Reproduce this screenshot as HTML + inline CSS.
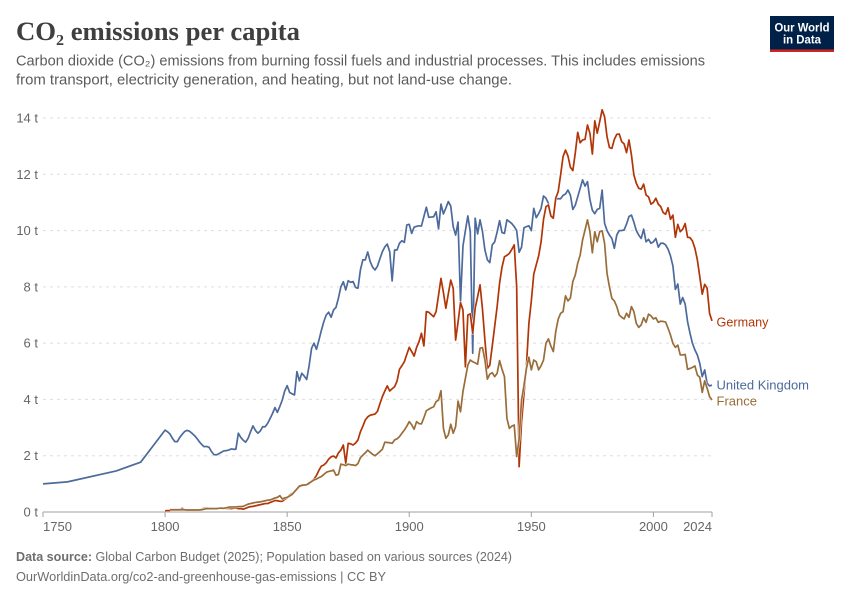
<!DOCTYPE html>
<html lang="en">
<head>
<meta charset="utf-8">
<title>CO₂ emissions per capita</title>
<style>
html,body{margin:0;padding:0;background:#fff}
svg{display:block}
text{font-family:"Liberation Sans",sans-serif}
</style>
</head>
<body>
<svg id="chart" width="850" height="600" viewBox="0 0 850 600" xmlns="http://www.w3.org/2000/svg">
  <rect x="0" y="0" width="850" height="600" fill="#ffffff"/>
  <text x="16" y="40" font-size="26" font-weight="bold" fill="#3f3f3f" textLength="284" lengthAdjust="spacingAndGlyphs" style="font-family:'Liberation Serif',serif">CO₂ emissions per capita</text>
  <text x="16" y="65.5" font-size="14.5" fill="#5b5b5b" textLength="689" lengthAdjust="spacingAndGlyphs">Carbon dioxide (CO₂) emissions from burning fossil fuels and industrial processes. This includes emissions</text>
  <text x="16" y="84.5" font-size="14.5" fill="#5b5b5b" textLength="496" lengthAdjust="spacingAndGlyphs">from transport, electricity generation, and heating, but not land-use change.</text>
  <g>
    <rect x="770" y="16" width="64" height="36" fill="#002147"/>
    <rect x="770" y="49.5" width="64" height="2.5" fill="#ce261e"/>
    <text x="802" y="31.5" font-size="12" font-weight="bold" fill="#ffffff" text-anchor="middle" textLength="55" lengthAdjust="spacingAndGlyphs">Our World</text>
    <text x="802" y="43.5" font-size="12" font-weight="bold" fill="#ffffff" text-anchor="middle" textLength="38" lengthAdjust="spacingAndGlyphs">in Data</text>
  </g>
  <g id="grid"></g>
  <g id="axes"></g>
  <g id="series"></g>
  <g id="labels"></g>
  <text x="16" y="561" font-size="13" fill="#6e6e6e" textLength="496" lengthAdjust="spacingAndGlyphs"><tspan font-weight="bold">Data source:</tspan> Global Carbon Budget (2025); Population based on various sources (2024)</text>
  <text x="16" y="581" font-size="13" fill="#6e6e6e" textLength="370" lengthAdjust="spacingAndGlyphs">OurWorldinData.org/co2-and-greenhouse-gas-emissions | CC BY</text>
</svg>
<script>
var yTicks = [0, 2, 4, 6, 8, 10, 12, 14];
var yTickLabels = ['0 t', '2 t', '4 t', '6 t', '8 t', '10 t', '12 t', '14 t'];
var xTicks = [1750, 1800, 1850, 1900, 1950, 2000, 2024];
var xTickLabels = ['1750', '1800', '1850', '1900', '1950', '2000', '2024'];

var ukEarlyYears = [1750, 1760, 1780, 1790];
var ukEarlyValues = [1.00, 1.07, 1.46, 1.77];
var ukStartYear = 1800;
var ukValues = [
  2.91,2.85,2.77,2.62,2.50,2.50,2.65,2.76,2.86,2.90,
  2.87,2.80,2.72,2.62,2.50,2.40,2.32,2.33,2.30,2.15,
  2.04,2.03,2.07,2.12,2.17,2.18,2.20,2.24,2.23,2.23,
  2.80,2.65,2.55,2.48,2.62,2.85,3.06,2.90,2.80,2.88,
  3.03,3.03,3.15,3.32,3.50,3.71,3.54,3.75,3.98,4.30,
  4.49,4.25,4.20,4.16,4.99,4.66,4.93,4.83,4.71,5.20,
  5.82,6.00,5.78,6.10,6.45,6.76,7.00,7.10,6.92,7.18,
  7.27,7.60,8.00,8.18,7.89,8.22,8.16,8.19,7.98,7.95,
  8.60,8.96,8.96,9.24,8.90,8.70,8.60,8.74,9.00,9.25,
  9.42,9.52,9.25,8.21,9.31,9.31,9.55,9.64,9.58,10.20,
  10.22,9.90,10.12,10.15,10.17,10.16,10.50,10.83,10.47,10.48,
  10.49,10.67,10.06,10.94,10.59,10.80,11.03,10.87,10.14,9.84,
  10.30,7.47,9.45,10.00,10.52,9.96,5.64,10.44,9.88,10.38,
  9.96,9.31,8.96,8.86,9.49,9.60,9.95,10.35,9.93,9.90,
  10.38,10.32,10.25,10.14,10.00,9.23,9.41,10.10,10.14,10.17,
  10.00,10.79,10.46,10.60,10.79,11.23,11.15,10.97,10.55,10.49,
  11.13,11.13,11.13,11.25,11.30,11.44,11.26,10.75,10.90,11.20,
  11.50,11.80,11.58,11.74,11.10,10.72,10.60,10.75,10.79,11.44,
  10.26,10.00,9.84,9.72,9.37,9.84,10.00,10.00,10.02,10.23,
  10.50,10.55,10.30,10.00,9.84,9.72,10.05,9.60,9.69,9.55,
  9.60,9.72,9.41,9.55,9.55,9.49,9.34,9.10,8.74,7.91,
  8.10,7.39,7.62,7.39,6.76,6.35,5.99,5.76,5.58,5.28,
  4.81,5.05,4.57,4.48,4.51
];

var germanyStartYear = 1800;
var germanyValues = [
  .04,.05,.05,.06,.06,.06,.07,.13,.07,.07,
  .07,.07,.07,.07,.08,.10,.13,.14,.13,.13,
  .12,.13,.13,.12,.12,.13,.13,.12,.13,.14,
  .12,.12,.10,.13,.17,.19,.20,.22,.24,.26,
  .28,.30,.30,.34,.37,.41,.40,.38,.38,.45,
  .50,.60,.66,.72,.80,.90,.93,.95,.96,1.00,
  1.10,1.17,1.30,1.48,1.63,1.67,1.75,1.88,1.96,1.99,
  1.92,2.10,2.20,2.38,1.73,2.44,2.42,2.38,2.45,2.56,
  2.85,3.05,3.27,3.38,3.44,3.46,3.48,3.58,3.85,4.10,
  4.30,4.48,4.30,4.38,4.45,4.65,5.07,5.20,5.34,5.60,
  5.85,5.70,5.54,5.85,6.05,6.35,5.90,7.12,7.10,7.02,
  6.94,7.12,7.70,8.30,7.80,7.24,7.75,8.24,7.95,6.11,
  6.75,7.44,7.18,5.16,7.00,7.04,6.35,7.24,7.65,8.07,
  7.20,6.10,5.10,5.22,5.90,6.60,7.30,8.13,8.70,9.07,
  9.12,9.19,9.33,9.49,8.00,1.61,3.20,4.20,5.20,6.70,
  7.50,8.45,8.78,9.10,9.60,10.40,10.85,10.91,10.52,10.44,
  11.15,11.38,11.98,12.63,12.86,12.65,12.25,12.13,12.75,13.49,
  13.12,13.22,13.24,13.75,13.46,12.72,13.90,13.46,13.87,14.29,
  14.05,13.34,12.95,12.92,13.24,13.42,13.43,13.16,13.08,12.77,
  13.22,12.69,11.98,11.68,11.50,11.47,11.65,11.26,11.20,10.94,
  11.00,11.15,10.94,10.85,10.64,10.58,10.81,10.40,10.55,9.76,
  10.22,9.96,10.05,10.25,9.76,9.75,9.63,9.37,8.96,8.36,
  7.74,8.09,7.95,7.06,6.79
];

var franceStartYear = 1802;
var franceValues = [
  .08,.08,.08,.08,.08,.08,.08,.07,
  .07,.07,.07,.07,.07,.08,.10,.12,.12,.12,
  .12,.12,.13,.14,.13,.15,.17,.18,.18,.18,
  .19,.19,.20,.24,.28,.30,.32,.34,.35,.36,
  .38,.40,.42,.43,.46,.50,.52,.58,.46,.50,
  .52,.57,.62,.72,.82,.92,.95,.96,.97,1.03,
  1.08,1.14,1.17,1.22,1.26,1.33,1.41,1.44,1.46,1.49,
  1.31,1.33,1.70,1.68,1.65,1.70,1.68,1.67,1.65,1.72,
  1.93,2.02,2.10,2.20,2.12,2.05,2.00,2.07,2.15,2.23,
  2.48,2.47,2.46,2.44,2.56,2.60,2.68,2.80,2.91,3.05,
  3.21,3.10,2.94,3.21,3.14,3.13,3.35,3.60,3.65,3.70,
  3.74,3.92,3.98,4.31,2.97,2.62,2.74,3.12,2.80,3.03,
  3.94,3.56,4.28,4.75,5.22,5.40,5.34,5.30,5.25,5.82,
  5.84,5.40,4.72,4.90,4.95,4.81,4.93,5.38,5.07,4.81,
  3.33,2.97,3.05,3.09,1.97,2.60,3.98,4.50,5.10,5.50,
  5.05,5.40,5.34,5.05,5.20,5.40,6.00,6.15,5.90,5.70,
  6.41,6.85,7.06,7.12,7.68,7.50,7.60,8.19,8.42,8.84,
  9.13,9.67,10.02,10.38,9.96,9.21,9.96,9.60,9.96,9.99,
  9.55,8.48,8.00,7.59,7.50,7.30,7.00,6.92,6.86,7.06,
  6.92,7.30,7.12,6.70,6.56,6.65,6.90,6.74,7.03,6.97,
  6.86,6.90,6.74,6.78,6.77,6.75,6.53,6.29,5.99,5.85,
  5.93,5.58,5.58,5.60,5.07,5.10,5.14,5.19,4.87,4.79,
  4.25,4.66,4.40,4.10,3.98
];

var NS = 'http://www.w3.org/2000/svg';
function x(year) { return 43 + (year - 1750) * (712 - 43) / (2024 - 1750); }
function y(value) { return 512 - value * (512 - 118) / 14; }

function make(tag, attrs, parent, content) {
  var el = document.createElementNS(NS, tag);
  for (var k in attrs) el.setAttribute(k, attrs[k]);
  if (content !== undefined) el.textContent = content;
  parent.appendChild(el);
  return el;
}

var grid = document.getElementById('grid');
var axes = document.getElementById('axes');
var seriesGroup = document.getElementById('series');
var labelsGroup = document.getElementById('labels');

yTicks.forEach(function (v, i) {
  if (v !== 0) {
    var g = make('line', {x1: 43, x2: 712, y1: y(v), y2: y(v), stroke: '#dddddd', 'stroke-width': 1, 'stroke-dasharray': '3,4'}, grid);
    
    
  }
  var t = make('text', {x: 38, y: y(v) + 4.5, 'font-size': 13, fill: '#666666', 'text-anchor': 'end'}, axes, yTickLabels[i]);
  
  
});

var axisLine = make('line', {x1: 43, x2: 712, y1: y(0), y2: y(0), stroke: '#a1a1a1', 'stroke-width': 1}, axes);



xTicks.forEach(function (yr, i) {
  var tick = make('line', {x1: x(yr), x2: x(yr), y1: y(0), y2: y(0) + 5, stroke: '#a1a1a1', 'stroke-width': 1}, axes);
  
  
  var anchor = i === 0 ? 'start' : (i === xTicks.length - 1 ? 'end' : 'middle');
  var t = make('text', {x: x(yr), y: 531, 'font-size': 13, fill: '#666666', 'text-anchor': anchor}, axes, xTickLabels[i]);
  
  
});

function pointsFrom(startYear, values, earlyYears, earlyValues) {
  var pts = [];
  (earlyYears || []).forEach(function (yr, i) {
    pts.push(x(yr).toFixed(2) + ',' + y(earlyValues[i]).toFixed(2));
  });
  values.forEach(function (v, i) {
    pts.push(x(startYear + i).toFixed(2) + ',' + y(v).toFixed(2));
  });
  return pts.join(' ');
}

function drawSeries(name, color, pts) {
  var halo = make('polyline', {points: pts, fill: 'none', stroke: '#ffffff', 'stroke-width': 2.8, 'stroke-linejoin': 'round', 'stroke-opacity': 0.85}, seriesGroup);
  
  
  var line = make('polyline', {points: pts, fill: 'none', stroke: color, 'stroke-width': 1.7, 'stroke-linejoin': 'round'}, seriesGroup);
  
  
}

drawSeries('united-kingdom', '#4c6a9c', pointsFrom(ukStartYear, ukValues, ukEarlyYears, ukEarlyValues));
drawSeries('germany', '#b13507', pointsFrom(germanyStartYear, germanyValues));
drawSeries('france', '#996d39', pointsFrom(franceStartYear, franceValues));

var germanyLabel = make('text', {x: 716.5, y: 326.5, 'font-size': 13, fill: '#b13507', textLength: 52, lengthAdjust: 'spacingAndGlyphs'}, labelsGroup, 'Germany');


var ukLabel = make('text', {x: 716.5, y: 389.5, 'font-size': 13, fill: '#4c6a9c', textLength: 92.5, lengthAdjust: 'spacingAndGlyphs'}, labelsGroup, 'United Kingdom');


var franceLabel = make('text', {x: 716.5, y: 405.5, 'font-size': 13, fill: '#996d39'}, labelsGroup, 'France');


</script>
</body>
</html>
